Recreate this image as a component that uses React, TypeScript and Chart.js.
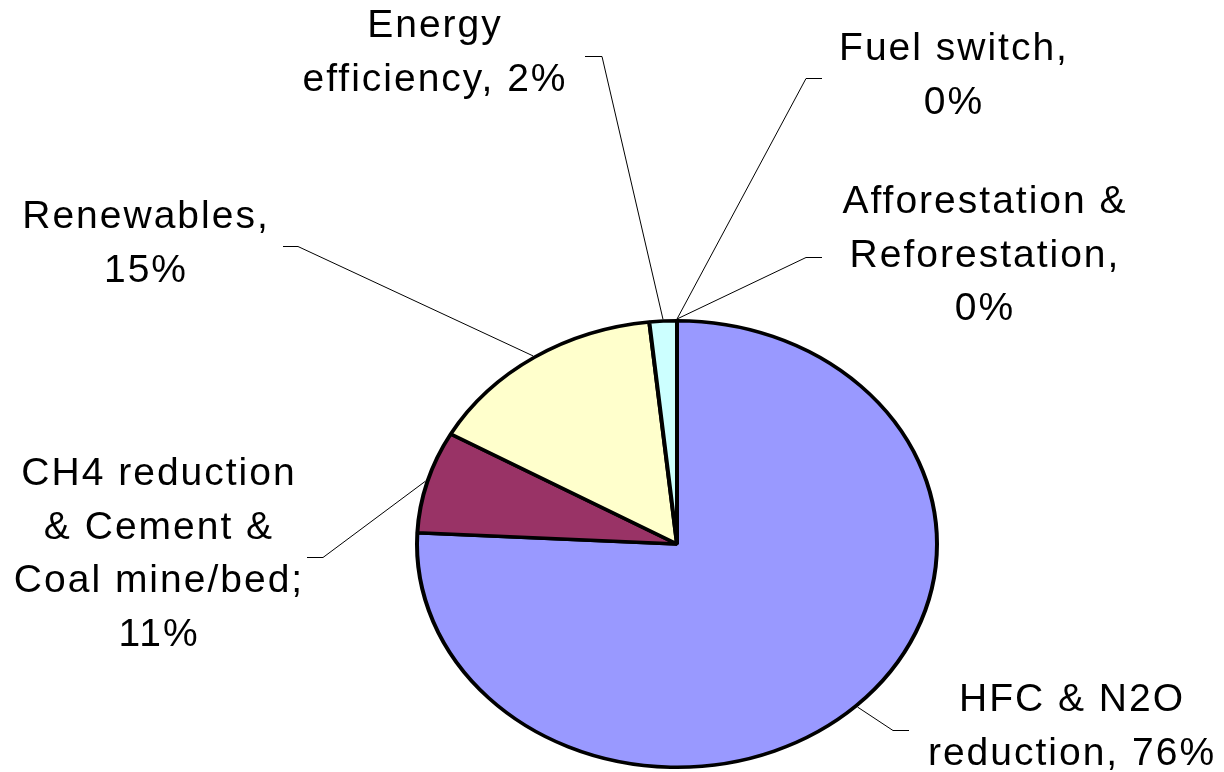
import React, { useEffect, useRef } from "react";
import { Chart, registerables } from "chart.js";

Chart.register(...registerables);

// ---- data ----
const categories = [
  "HFC & N2O reduction",
  "CH4 reduction & Cement & Coal mine/bed",
  "Renewables",
  "Energy efficiency",
  "Fuel switch",
  "Afforestation & Reforestation",
];
const sliceValues = [75.8, 7.4, 15.1, 1.7, 0, 0];
const labelLines = [
  ["HFC & N2O", "reduction, 76%"],
  ["CH4 reduction", "& Cement &", "Coal mine/bed;", "11%"],
  ["Renewables,", "15%"],
  ["Energy", "efficiency, 2%"],
  ["Fuel switch,", "0%"],
  ["Afforestation &", "Reforestation,", "0%"],
];
const sliceColors = ["#9999FF", "#993366", "#FFFFCC", "#CCFFFF", "#660066", "#FF8080"];

// ---- layout (label placement, not data) ----
const labelLayout = [
  { x: 1071, y: 711, ex: 893, ey: 730, tx: 909 },
  { x: 158, y: 485, ex: 323, ey: 557, tx: 307 },
  { x: 145, y: 228, ex: 298, ey: 246, tx: 283 },
  { x: 434, y: 37, ex: 602, ey: 56, tx: 585 },
  { x: 953, y: 60, ex: 806, ey: 78, tx: 822 },
  { x: 984, y: 213, ex: 806, ey: 257, tx: 822 },
];
const LINE_H = 53.6;
const PIE_CY = 544;
const Y_SCALE = 225 / 262;
const FONT = "39px 'Liberation Sans', Arial, sans-serif";
const LETTER_SPACING = 2;

const ellipsePlugin = {
  id: "ellipsePie",
  beforeDatasetsDraw(chart: any) {
    const arc = chart.getDatasetMeta(0).data[0];
    const ctx = chart.ctx;
    ctx.save();
    ctx.translate(0, PIE_CY);
    ctx.scale(1, Y_SCALE);
    ctx.translate(0, -arc.y);
  },
  afterDatasetsDraw(chart: any) {
    chart.ctx.restore();
  },
};

const labelPlugin = {
  id: "leaderLabels",
  afterDraw(chart: any) {
    const ctx = chart.ctx;
    const meta = chart.getDatasetMeta(0);
    ctx.save();
    ctx.font = FONT;
    (ctx as any).letterSpacing = LETTER_SPACING + "px";
    ctx.textAlign = "center";
    ctx.textBaseline = "alphabetic";
    ctx.fillStyle = "#000";
    ctx.strokeStyle = "#000";
    ctx.lineWidth = 1;
    meta.data.forEach((arc: any, i: number) => {
      const p = arc.getProps(["x", "y", "startAngle", "endAngle", "outerRadius"], true);
      const mid = (p.startAngle + p.endAngle) / 2;
      const r = p.outerRadius + 2;
      const ax = p.x + r * Math.cos(mid);
      const ay = PIE_CY + Y_SCALE * r * Math.sin(mid);
      const L = labelLayout[i];
      ctx.beginPath();
      ctx.moveTo(ax, ay);
      ctx.lineTo(L.ex, L.ey + 0.5);
      ctx.lineTo(L.tx, L.ey + 0.5);
      ctx.stroke();
      labelLines[i].forEach((t: string, j: number) => {
        ctx.fillText(t, L.x + LETTER_SPACING / 2, L.y + j * LINE_H);
      });
    });
    ctx.restore();
  },
};

export default function App() {
  const ref = useRef<HTMLCanvasElement | null>(null);
  useEffect(() => {
    if (!ref.current) return;
    const chart = new Chart(ref.current, {
      type: "pie",
      data: {
        labels: categories,
        datasets: [
          {
            data: sliceValues,
            backgroundColor: sliceColors,
            borderColor: "#000000",
            borderWidth: 4,
            hoverOffset: 0,
            offset: 0,
            clip: false as any,
          } as any,
        ],
      },
      options: {
        responsive: false,
        animation: false,
        layout: { padding: { left: 415, right: 285, top: 124, bottom: 0 } },
        plugins: {
          legend: { display: false },
          tooltip: { enabled: false },
          title: { display: false },
        },
      },
      plugins: [ellipsePlugin, labelPlugin],
    });
    return () => chart.destroy();
  }, []);
  return (
    <div style={{ position: "absolute", left: 0, top: 0, width: 1224, height: 772, background: "#fff" }}>
      <canvas ref={ref} width={1224} height={772} style={{ display: "block" }} />
    </div>
  );
}
